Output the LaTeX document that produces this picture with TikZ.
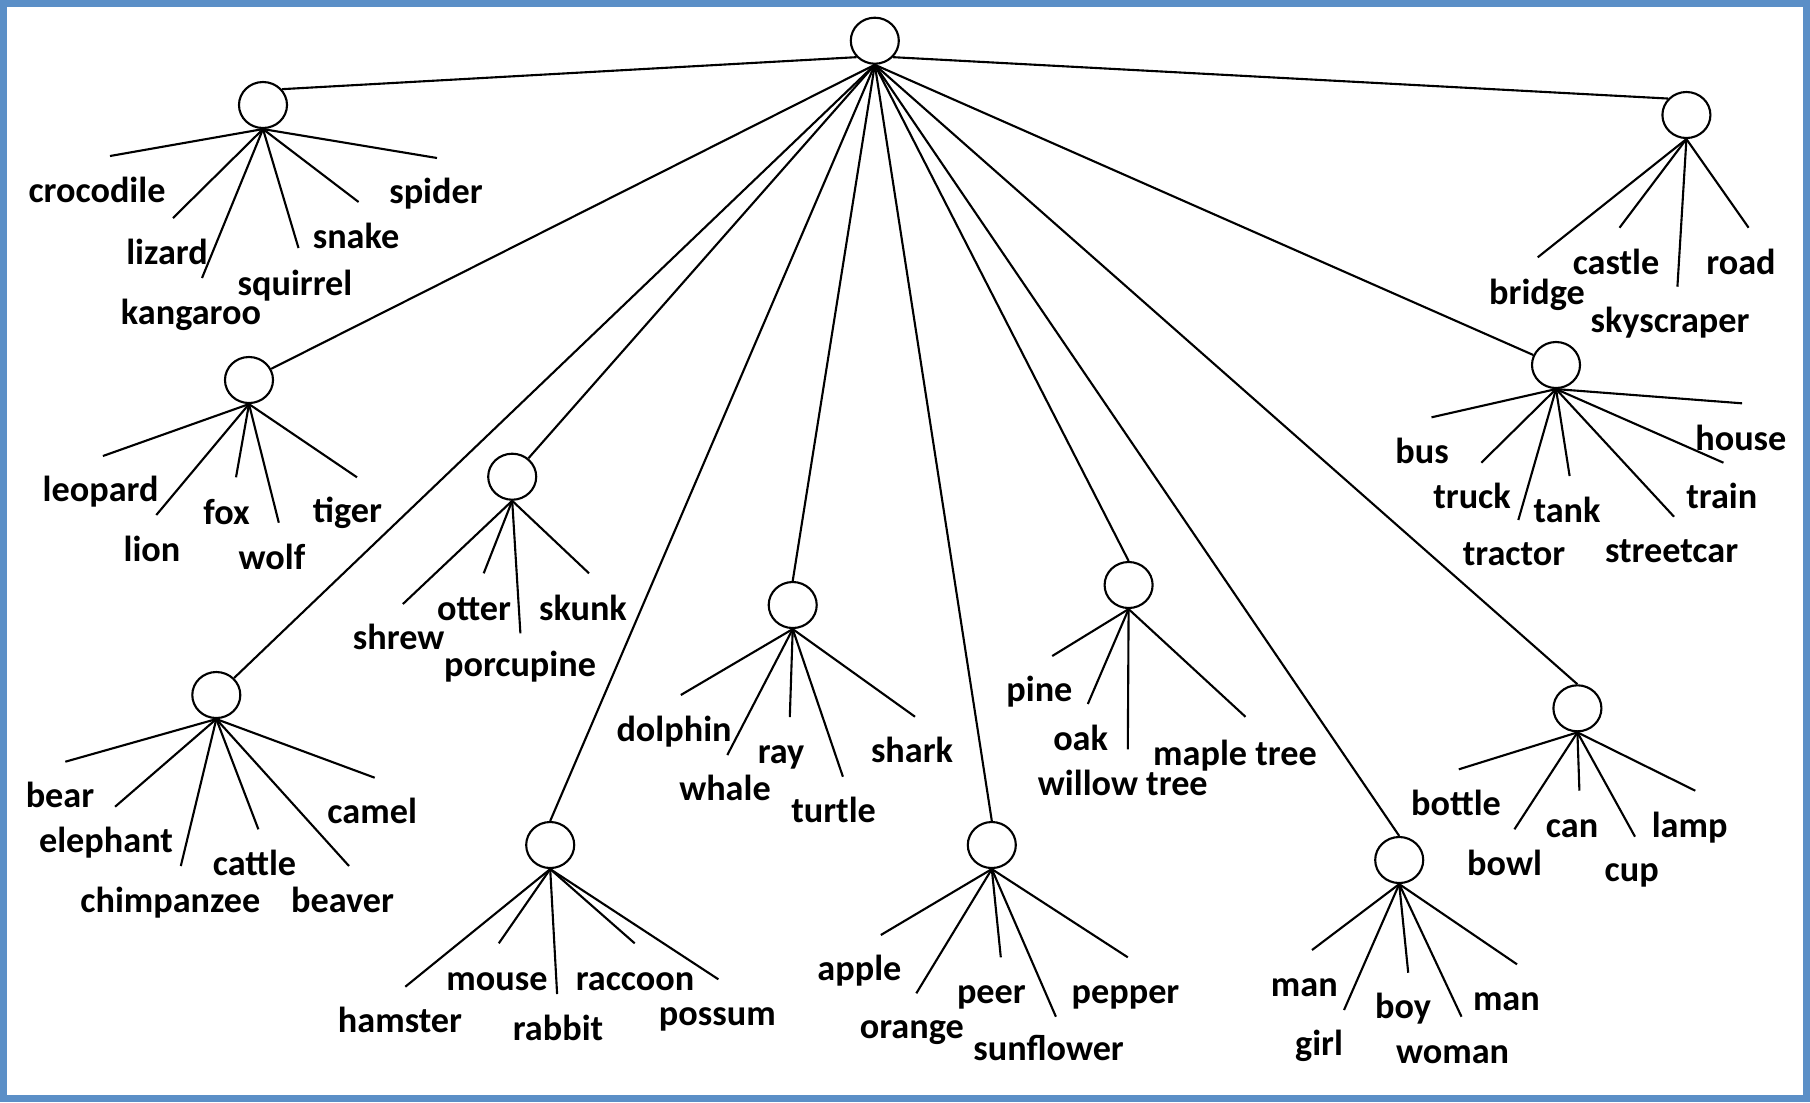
\documentclass[tikz,border=0pt]{standalone}
\usepackage{fontspec}
\setmainfont{Carlito}
\usetikzlibrary{shapes.geometric}

\definecolor{frameblue}{RGB}{91,143,199}

\tikzset{
  cluster/.style={ellipse, draw, line width=0.6pt, minimum width=0.48cm,
    minimum height=0.46cm, inner sep=0pt},
  branch/.style={line width=0.6pt},
  word/.style={anchor=base, inner sep=0pt,
    font=\fontsize{10.3}{12}\selectfont\bfseries},
}

\begin{document}
\begin{tikzpicture}[x=0.01cm, y=-0.01cm]
  \useasboundingbox (0,0) rectangle (1810,1102);
  \draw[frameblue, line width=0.07cm] (3.5,3.5) rectangle (1806.5,1098.5);

  % category nodes
  \node[cluster] (root) at (874.8,40.7) {};
  \node[cluster] (rept) at (263,105) {};
  \node[cluster] (build) at (1686.4,115) {};
  \node[cluster] (cats) at (249,380) {};
  \node[cluster] (vehic) at (1556,365) {};
  \node[cluster] (small) at (512.2,476.7) {};
  \node[cluster] (trees) at (1128.6,585) {};
  \node[cluster] (sea) at (792.7,605) {};
  \node[cluster] (farm) at (216.3,695) {};
  \node[cluster] (things) at (1577.4,708.3) {};
  \node[cluster] (rodent) at (550.2,845) {};
  \node[cluster] (fruit) at (991.8,845) {};
  \node[cluster] (people) at (1399.2,860) {};

  % top level
  \draw[branch] (root.222) -- (rept.40);
  \draw[branch] (root.318) -- (build.138);
  \foreach \c in {cats,small,farm,vehic}
    \draw[branch] (root.south) -- (\c);
  \foreach \c in {rodent,sea,fruit,trees,people,things}
    \draw[branch] (root.south) -- (\c.north);

  % leaves: number/line end/label base/word
  \foreach \i/\ex/\ey/\lx/\ly/\w in {1/110/156/97/202.7/crocodile,
      2/173/218/167/264/lizard, 3/202/278/191/324/kangaroo,
      4/298.5/248/295/295/squirrel, 5/358.6/202/356/248/snake,
      6/437/158/436/203/spider}{
    \coordinate (rept-\i) at (\ex,\ey);
    \draw[branch] (rept.south) -- (rept-\i);
    \node[word] (rept-\i-w) at (\lx,\ly) {\w};
  }
  \foreach \i/\ex/\ey/\lx/\ly/\w in {1/102.9/456/100.6/501/leopard,
      2/156.3/515/152/561/lion, 3/236/477.3/226.5/524/fox,
      4/278.8/522.7/272/569.3/wolf, 5/357/477.3/347.5/522.7/tiger}{
    \coordinate (cats-\i) at (\ex,\ey);
    \draw[branch] (cats.south) -- (cats-\i);
    \node[word] (cats-\i-w) at (\lx,\ly) {\w};
  }
  \foreach \i/\ex/\ey/\lx/\ly/\w in {1/402.9/604/398.6/649.3/shrew,
      2/483.7/573.3/474/620/otter, 3/520.4/633.3/520/676.7/porcupine,
      4/589/573.3/583/620/skunk}{
    \coordinate (small-\i) at (\ex,\ey);
    \draw[branch] (small.south) -- (small-\i);
    \node[word] (small-\i-w) at (\lx,\ly) {\w};
  }
  \foreach \i/\ex/\ey/\lx/\ly/\w in {1/65.3/761.7/60/807.7/bear,
      2/115.1/806.7/106/852.7/elephant, 3/180.8/866/170.4/912.3/chimpanzee,
      4/258.4/829.3/254.5/875.7/cattle, 5/349/866/342.6/912.3/beaver,
      6/374.7/777.7/372.2/823.3/camel}{
    \coordinate (farm-\i) at (\ex,\ey);
    \draw[branch] (farm.south) -- (farm-\i);
    \node[word] (farm-\i-w) at (\lx,\ly) {\w};
  }
  \foreach \i/\ex/\ey/\lx/\ly/\w in {1/405.3/986.7/400/1032.7/hamster,
      2/498.8/943.3/497/990/mouse, 3/557.1/994/558/1040/rabbit,
      4/634.7/943.3/635/990/raccoon, 5/718.4/979.3/717.3/1025/possum}{
    \coordinate (rodent-\i) at (\ex,\ey);
    \draw[branch] (rodent.south) -- (rodent-\i);
    \node[word] (rodent-\i-w) at (\lx,\ly) {\w};
  }
  \foreach \i/\ex/\ey/\lx/\ly/\w in {1/680.8/695/674/741.7/dolphin,
      2/727.3/755/725/800/whale, 3/789.8/717/781/763.3/ray,
      4/842.9/776.7/833.6/822.7/turtle, 5/915/716.7/912/762.7/shark}{
    \coordinate (sea-\i) at (\ex,\ey);
    \draw[branch] (sea.south) -- (sea-\i);
    \node[word] (sea-\i-w) at (\lx,\ly) {\w};
  }
  \foreach \i/\ex/\ey/\lx/\ly/\w in {1/880.8/935/859.4/980/apple,
      2/916.3/993.3/911.8/1038.3/orange, 3/1000.8/957.3/991.4/1003.3/peer,
      4/1055.9/1016.7/1048.6/1060.7/sunflower,
      5/1127.8/957.3/1125.5/1003.3/pepper}{
    \coordinate (fruit-\i) at (\ex,\ey);
    \draw[branch] (fruit.south) -- (fruit-\i);
    \node[word] (fruit-\i-w) at (\lx,\ly) {\w};
  }
  \foreach \i/\ex/\ey/\lx/\ly/\w in {1/1052.2/656/1039.4/701.7/pine,
      2/1087.8/704/1080.6/750/oak, 3/1127.8/749.3/1122.8/795/willow tree,
      4/1245.5/716.8/1235/765/maple tree}{
    \coordinate (trees-\i) at (\ex,\ey);
    \draw[branch] (trees.south) -- (trees-\i);
    \node[word] (trees-\i-w) at (\lx,\ly) {\w};
  }
  \foreach \i/\ex/\ey/\lx/\ly/\w in {1/1312/950/1304.3/996/man,
      2/1344/1010/1319/1055/girl, 3/1408.2/972.7/1403/1018.3/boy,
      4/1461.5/1016.7/1452.6/1063.3/woman, 5/1517/964.3/1506.4/1010/man}{
    \coordinate (people-\i) at (\ex,\ey);
    \draw[branch] (people.south) -- (people-\i);
    \node[word] (people-\i-w) at (\lx,\ly) {\w};
  }
  \foreach \i/\ex/\ey/\lx/\ly/\w in {1/1458.8/769.3/1456/815/bottle,
      2/1514.4/829.3/1504.5/875/bowl, 3/1579.4/790.7/1572/837.3/can,
      4/1635/836.7/1631.7/881.7/cup, 5/1695.3/790.7/1689.6/837.3/lamp}{
    \coordinate (things-\i) at (\ex,\ey);
    \draw[branch] (things.south) -- (things-\i);
    \node[word] (things-\i-w) at (\lx,\ly) {\w};
  }
  \foreach \i/\ex/\ey/\lx/\ly/\w in {1/1431.5/417.3/1422/463.3/bus,
      2/1481.3/462.7/1472/508.3/truck, 3/1518.3/520/1514/565/tractor,
      4/1569.6/476/1567/522.7/tank, 5/1674/516.7/1671.6/562.7/streetcar,
      6/1723.4/462.7/1721.8/508.3/train, 7/1742/403.3/1740.8/450/house}{
    \coordinate (vehic-\i) at (\ex,\ey);
    \draw[branch] (vehic.south) -- (vehic-\i);
    \node[word] (vehic-\i-w) at (\lx,\ly) {\w};
  }
  \foreach \i/\ex/\ey/\lx/\ly/\w in {1/1537.7/257.3/1537/304/bridge,
      2/1619.5/227.7/1616/274/castle, 3/1677.4/286.7/1670/332.7/skyscraper,
      4/1748.6/227.7/1741/274/road}{
    \coordinate (build-\i) at (\ex,\ey);
    \draw[branch] (build.south) -- (build-\i);
    \node[word] (build-\i-w) at (\lx,\ly) {\w};
  }
\end{tikzpicture}
\end{document}
